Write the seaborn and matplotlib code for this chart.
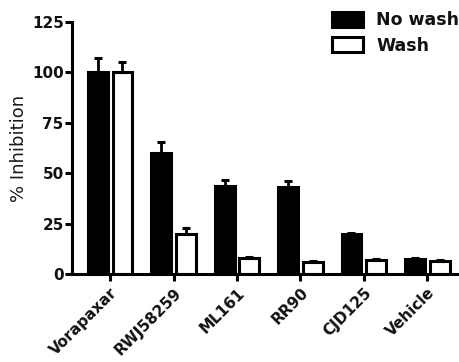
import matplotlib
matplotlib.use("Agg")
import matplotlib.pyplot as plt
import seaborn as sns
import pandas as pd
import numpy as np

categories = ["Vorapaxar", "RWJ58259", "ML161", "RR90", "CJD125", "Vehicle"]
no_wash = [100, 60, 43.5, 43.3, 20, 7.5]
no_wash_err = [7, 5.5, 3, 2.8, 0.5, 0.3]
wash = [100, 20, 8, 6, 7, 6.5]
wash_err = [5, 2.6, 0.4, 0.3, 0.4, 0.3]
series = ["No wash", "Wash"]

sns.set_theme(style="ticks")
plt.rcParams['font.family'] = ['DejaVu Sans']

df = pd.DataFrame({
    "cat": categories * 2,
    "val": no_wash + wash,
    "err": no_wash_err + wash_err,
    "series": [series[0]] * len(categories) + [series[1]] * len(categories),
})

fig = plt.figure(figsize=(4.59, 3.62), dpi=100)
ax = fig.add_axes([0.157, 0.243, 0.843, 0.696])

sns.barplot(data=df, x="cat", y="val", hue="series", hue_order=series,
            palette={"No wash": "black", "Wash": "white"},
            edgecolor="black", linewidth=2.2, width=0.78, gap=0.2,
            errorbar=None, ax=ax)

# error bars (upward only) placed on bar patches
bars = [p for p in ax.patches if p.get_height() > 0][:2 * len(categories)]
for p, (_, row) in zip(bars, df.iterrows()):
    xc = p.get_x() + p.get_width() / 2
    ax.errorbar(xc, row["val"], yerr=[[0], [row["err"]]], fmt="none",
                ecolor="black", elinewidth=2, capsize=3, capthick=2.2, zorder=1)

ax.set_ylim(0, 125)
ax.set_xlim(-0.6, 5.5)
ax.set_yticks([0, 25, 50, 75, 100, 125])
ax.set_ylabel("% Inhibition", fontsize=13, color="#1a1a1a", labelpad=3)
ax.set_xlabel("")
for s in ["top", "right"]:
    ax.spines[s].set_visible(False)
for s in ["left", "bottom"]:
    ax.spines[s].set_linewidth(2.2)
    ax.spines[s].set_color("black")
ax.tick_params(axis="both", width=2.2, length=5, color="black", labelsize=11,
               labelcolor="#111111")
ax.tick_params(axis="y", pad=1)
ax.tick_params(axis="x", pad=3)
for lab in ax.get_yticklabels():
    lab.set_fontweight("bold")
ax.set_xticks(range(len(categories)))
ax.set_xticklabels(categories, rotation=45, ha="right", rotation_mode="anchor",
                   fontweight="bold", fontsize=11)

leg = ax.legend(loc="upper left", bbox_to_anchor=(332 / 459, 1 - 11 / 362),
                bbox_transform=fig.transFigure, frameon=False,
                borderpad=0, borderaxespad=0,
                prop={"weight": "bold", "size": 12.5}, handlelength=1.8,
                handleheight=0.95, handletextpad=0.75, labelspacing=0.45)
for h in leg.legend_handles:
    h.set_edgecolor("black")
    h.set_linewidth(2.2)
for t in leg.get_texts():
    t.set_color("#111111")

fig.savefig("out.png", dpi=100)
